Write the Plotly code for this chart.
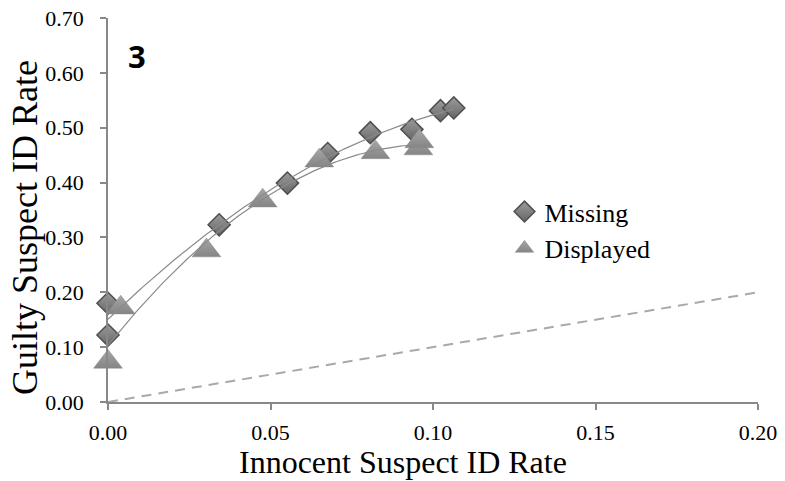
import numpy as np
import plotly.graph_objects as go

# Innocent vs guilty suspect identification rates
missing_x = [0.0, 0.0, 0.0342, 0.0552, 0.0676, 0.0807, 0.0935, 0.1023, 0.1064]
missing_y = [0.180, 0.122, 0.323, 0.399, 0.453, 0.491, 0.497, 0.531, 0.536]

displayed_x = [0.0, 0.0039, 0.0303, 0.0476, 0.0650, 0.0823, 0.0955, 0.0958]
displayed_y = [0.073, 0.172, 0.276, 0.367, 0.440, 0.455, 0.462, 0.475]

chance_x = [0.0, 0.20]
chance_y = [0.0, 0.20]

x_ticks = [0.0, 0.05, 0.10, 0.15, 0.20]
y_ticks = [0.0, 0.10, 0.20, 0.30, 0.40, 0.50, 0.60, 0.70]

SERIF = "Liberation Serif, Times New Roman, serif"


def quad_trend(xs, ys, n=100):
    coef = np.polyfit(xs, ys, 2)
    xx = np.linspace(min(xs), max(xs), n)
    return xx, np.polyval(coef, xx)


fig = go.Figure()

# chance diagonal
fig.add_trace(go.Scatter(
    x=chance_x, y=chance_y, mode="lines",
    line=dict(color="#a9a9a9", width=2, dash="10px,7px"),
    showlegend=False, hoverinfo="skip"))

fig.add_trace(go.Scatter(
    x=missing_x, y=missing_y, mode="markers", name="Missing",
    marker=dict(symbol="diamond", size=17, color="#9c9c9c",
                gradient=dict(type="vertical", color="#666666"),
                line=dict(color="#4f4f4f", width=1.5)),
    cliponaxis=False))

fig.add_trace(go.Scatter(
    x=displayed_x, y=displayed_y, mode="markers", name="Displayed",
    marker=dict(symbol="triangle-up", size=25, color="#a6a6a6",
                gradient=dict(type="vertical", color="#858585"),
                line=dict(color="#8c8c8c", width=0.5)),
    cliponaxis=False))

# second-order trend lines
for xs, ys in ((missing_x, missing_y), (displayed_x, displayed_y)):
    tx, ty = quad_trend(xs, ys)
    fig.add_trace(go.Scatter(
        x=tx, y=ty, mode="lines",
        line=dict(color="#8a8a8a", width=1.2),
        showlegend=False, hoverinfo="skip", cliponaxis=False))

fig.add_annotation(
    text="<b>3</b>", x=137, y=56, xref="paper", yref="paper",
    showarrow=False, font=dict(family="Open Sans, Liberation Sans, sans-serif",
                               size=31, color="black"))

# axis titles placed as paper annotations
fig.add_annotation(
    text="Innocent Suspect ID Rate", x=403, y=462, xref="paper", yref="paper",
    showarrow=False, font=dict(family=SERIF, size=32, color="black"))
fig.add_annotation(
    text="Guilty Suspect ID Rate", x=25, y=228, xref="paper", yref="paper",
    textangle=-90, showarrow=False,
    font=dict(family=SERIF, size=36, color="black"))

axis_common = dict(
    showgrid=False, zeroline=False, showline=True, automargin=False,
    linecolor="#888888", linewidth=1.5,
    ticks="outside", ticklen=6, tickcolor="#888888", tickwidth=1.5,
    tickformat=".2f", tickfont=dict(family=SERIF, size=22, color="black"),
)

fig.update_xaxes(range=[0, 0.20], tickvals=x_ticks, ticklabelstandoff=4,
                 **axis_common)
fig.update_yaxes(range=[0, 0.70], tickvals=y_ticks, ticklabelstandoff=12,
                 **axis_common)

W, H = 785, 481
L, R, T, B = 108, 27, 18, 79

fig.update_layout(
    width=W, height=H,
    margin=dict(l=L, r=R, t=T, b=B),
    paper_bgcolor="white", plot_bgcolor="white",
    legend=dict(x=0.61, y=0.557, xanchor="left", yanchor="top",
                font=dict(family=SERIF, size=26, color="black"),
                bgcolor="rgba(0,0,0,0)", tracegroupgap=0),
)

# convert pixel positions of annotations into paper fractions
for ann in fig.layout.annotations:
    ann.x = (ann.x - L) / (W - L - R)
    ann.y = (H - B - ann.y) / (H - T - B)
    ann.xanchor = "center"
    ann.yanchor = "middle"

fig.write_html("out.html")
